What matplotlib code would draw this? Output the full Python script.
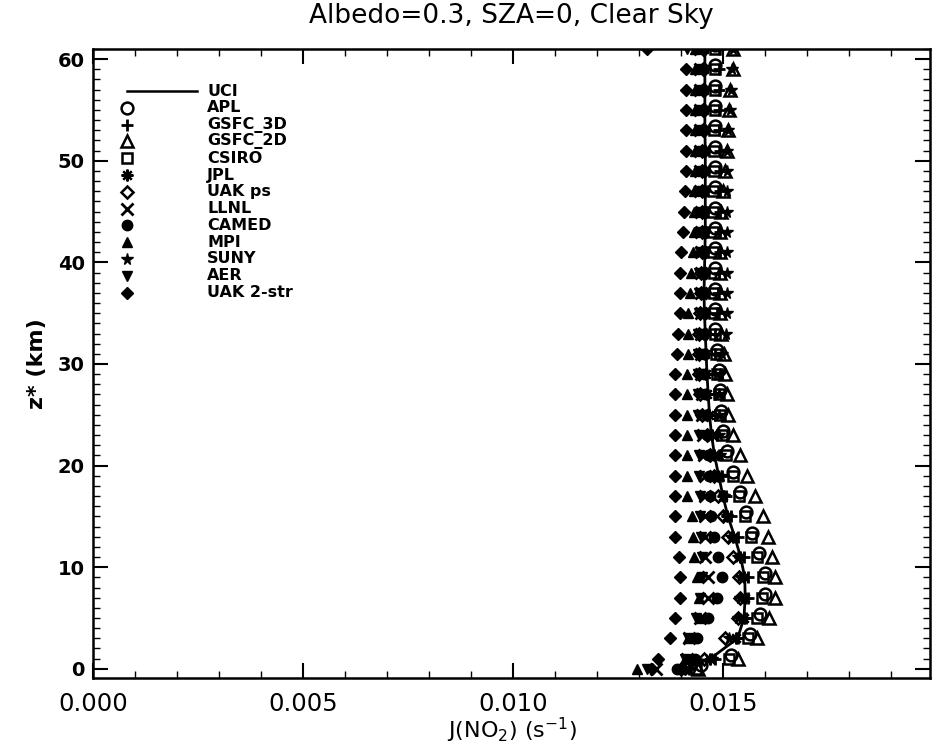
import matplotlib
matplotlib.use("Agg")
import matplotlib.pyplot as plt
from matplotlib.ticker import MultipleLocator, FixedLocator
import numpy as np

# altitude levels (km)
z = [0, 1, 3, 5, 7, 9, 11, 13, 15, 17, 19, 21, 23, 25, 27, 29, 31, 33, 35, 37,
     39, 41, 43, 45, 47, 49, 51, 53, 55, 57, 59, 61]
z_apl = [0.4, 1.4, 3.4, 5.4, 7.4, 9.4, 11.4, 13.4, 15.4, 17.4, 19.4, 21.4, 23.4, 25.4,
         27.4, 29.4, 31.4, 33.4, 35.4, 37.4, 39.4, 41.4, 43.4, 45.4, 47.4, 49.4, 51.4,
         53.4, 55.4, 57.4, 59.4, 61.4]

# J(NO2) values, s^-1
uci = [0.01410, 0.01470, 0.01535, 0.01550, 0.01553, 0.01552, 0.01542, 0.01528, 0.01512,
       0.01500, 0.01490, 0.01480, 0.01473, 0.01468, 0.01465, 0.01462, 0.01460, 0.01458,
       0.01456, 0.01455, 0.01456, 0.01457, 0.01458, 0.01458, 0.01458, 0.01458, 0.01458,
       0.01457, 0.01457, 0.01457, 0.01457, 0.01457]
apl = [0.01448, 0.01520, 0.01565, 0.01588, 0.01600, 0.01600, 0.01585, 0.01570, 0.01555,
       0.01540, 0.01525, 0.01510, 0.01500, 0.01495, 0.01492, 0.01490, 0.01485, 0.01482,
       0.01480, 0.01480, 0.01480, 0.01480, 0.01480, 0.01480, 0.01480, 0.01480, 0.01480,
       0.01480, 0.01480, 0.01480, 0.01480, 0.01480]
gsfc_3d = [0.01420, 0.01480, 0.01535, 0.01555, 0.01560, 0.01560, 0.01550, 0.01535, 0.01520,
           0.01508, 0.01498, 0.01490, 0.01485, 0.01482, 0.01480, 0.01480, 0.01480, 0.01482,
           0.01485, 0.01488, 0.01490, 0.01492, 0.01494, 0.01494, 0.01493, 0.01493, 0.01492,
           0.01490, 0.01490, 0.01490, 0.01490, 0.01490]
gsfc_2d = [0.01440, 0.01535, 0.01580, 0.01610, 0.01624, 0.01624, 0.01617, 0.01607, 0.01595,
           0.01576, 0.01557, 0.01540, 0.01524, 0.01512, 0.01510, 0.01505, 0.01502, 0.01495,
           0.01493, 0.01492, 0.01492, 0.01493, 0.01494, 0.01496, 0.01500, 0.01505, 0.01510,
           0.01513, 0.01515, 0.01518, 0.01524, 0.01524]
csiro = [0.01435, 0.01515, 0.01560, 0.01580, 0.01593, 0.01595, 0.01580, 0.01568, 0.01552,
         0.01538, 0.01523, 0.01508, 0.01498, 0.01492, 0.01490, 0.01486, 0.01483, 0.01480,
         0.01478, 0.01478, 0.01478, 0.01477, 0.01477, 0.01477, 0.01477, 0.01478, 0.01478,
         0.01479, 0.01480, 0.01480, 0.01480, 0.01480]
jpl = [0.01410, 0.01470, 0.01530, 0.01550, 0.01553, 0.01550, 0.01540, 0.01525, 0.01510,
       0.01500, 0.01488, 0.01478, 0.01473, 0.01468, 0.01463, 0.01460, 0.01458, 0.01456,
       0.01455, 0.01455, 0.01455, 0.01455, 0.01455, 0.01455, 0.01455, 0.01455, 0.01455,
       0.01455, 0.01455, 0.01455, 0.01455, 0.01455]
uak_ps = [0.01400, 0.01455, 0.01505, 0.01535, 0.01540, 0.01538, 0.01525, 0.01512, 0.01500,
          0.01488, 0.01478, 0.01470, 0.01462, 0.01450, 0.01445, 0.01443, 0.01442, 0.01443,
          0.01445, 0.01447, 0.01448, 0.01450, 0.01450, 0.01450, 0.01450, 0.01450, 0.01450,
          0.01452, 0.01452, 0.01452, 0.01452, 0.01452]
llnl = [0.01340, 0.01415, 0.01420, 0.01445, 0.01465, 0.01465, 0.01458, 0.01457, 0.01457,
        0.01457, 0.01457, 0.01455, 0.01452, 0.01450, 0.01450, 0.01448, 0.01448, 0.01448,
        0.01448, 0.01448, 0.01448, 0.01448, 0.01448, 0.01448, 0.01446, 0.01446, 0.01446,
        0.01446, 0.01446, 0.01446, 0.01446, 0.01446]
camed = [0.01390, 0.01433, 0.01438, 0.01464, 0.01486, 0.01498, 0.01488, 0.01478, 0.01472,
         0.01470, 0.01468, 0.01465, 0.01463, 0.01460, 0.01458, 0.01456, 0.01455, 0.01455,
         0.01454, 0.01454, 0.01454, 0.01453, 0.01453, 0.01453, 0.01453, 0.01453, 0.01453,
         0.01453, 0.01453, 0.01453, 0.01453, 0.01453]
mpi = [0.01295, 0.01410, 0.01418, 0.01445, 0.01443, 0.01438, 0.01432, 0.01428, 0.01426,
       0.01414, 0.01414, 0.01414, 0.01414, 0.01414, 0.01414, 0.01414, 0.01416, 0.01417,
       0.01418, 0.01421, 0.01425, 0.01429, 0.01430, 0.01430, 0.01432, 0.01433, 0.01433,
       0.01433, 0.01433, 0.01433, 0.01433, 0.01433]
suny = [0.01420, 0.01475, 0.01515, 0.01535, 0.01540, 0.01540, 0.01535, 0.01520, 0.01510,
        0.01502, 0.01495, 0.01492, 0.01490, 0.01490, 0.01490, 0.01492, 0.01498, 0.01508,
        0.01510, 0.01510, 0.01510, 0.01510, 0.01510, 0.01510, 0.01510, 0.01510, 0.01510,
        0.01513, 0.01516, 0.01520, 0.01522, 0.01524]
aer = [0.01320, 0.01410, 0.01418, 0.01435, 0.01445, 0.01450, 0.01450, 0.01448, 0.01446,
       0.01445, 0.01444, 0.01443, 0.01442, 0.01440, 0.01440, 0.01440, 0.01440, 0.01440,
       0.01442, 0.01443, 0.01444, 0.01445, 0.01445, 0.01445, 0.01445, 0.01445, 0.01445,
       0.01445, 0.01445, 0.01445, 0.01445, 0.01415]
uak_2str = [0.01330, 0.01345, 0.01374, 0.01386, 0.01398, 0.01398, 0.01396, 0.01386, 0.01386,
            0.01386, 0.01386, 0.01386, 0.01386, 0.01386, 0.01386, 0.01386, 0.01390, 0.01392,
            0.01398, 0.01398, 0.01398, 0.01400, 0.01405, 0.01408, 0.01410, 0.01412, 0.01412,
            0.01412, 0.01412, 0.01412, 0.01412, 0.01319]

model_names = ["UCI", "APL", "GSFC_3D", "GSFC_2D", "CSIRO", "JPL", "UAK ps", "LLNL",
               "CAMED", "MPI", "SUNY", "AER", "UAK 2-str"]

# style per series: (marker, size, filled, edge width)
styles = {
    "APL": ("o", 8.5, False, 1.8),
    "GSFC_3D": ("+", 9, True, 2.0),
    "GSFC_2D": ("^", 8.5, False, 1.8),
    "CSIRO": ("s", 7.5, False, 1.8),
    "JPL": ((8, 2, 0), 8.5, True, 1.6),
    "UAK ps": ("D", 6.5, False, 1.8),
    "LLNL": ("x", 8, True, 2.0),
    "CAMED": ("o", 7.5, True, 1.0),
    "MPI": ("^", 7.5, True, 1.0),
    "SUNY": ("*", 8.5, True, 1.0),
    "AER": ("v", 7.5, True, 1.0),
    "UAK 2-str": ("D", 6, True, 1.0),
}

series = {
    "APL": (apl, z_apl), "GSFC_3D": (gsfc_3d, z), "GSFC_2D": (gsfc_2d, z),
    "CSIRO": (csiro, z), "JPL": (jpl, z), "UAK ps": (uak_ps, z), "LLNL": (llnl, z),
    "CAMED": (camed, z), "MPI": (mpi, z), "SUNY": (suny, z), "AER": (aer, z),
    "UAK 2-str": (uak_2str, z),
}

fig = plt.figure(figsize=(9.32, 7.46), dpi=100)
ax = fig.add_axes([0.0998, 0.0912, 0.898, 0.8431])

ax.plot(uci, z, color="black", lw=2.0, zorder=3)
for name in model_names[1:]:
    xv, zv = series[name]
    m, s, filled, mew = styles[name]
    ax.plot(xv, zv, linestyle="none", marker=m, markersize=s,
            markerfacecolor="black" if filled else "none",
            markeredgecolor="black", markeredgewidth=mew, zorder=4)

ax.set_xlim(0, 0.01993)
ax.set_ylim(-0.9, 61)

ax.xaxis.set_major_locator(FixedLocator([0.0, 0.005, 0.010, 0.015]))
ax.set_xticklabels(["0.000", "0.005", "0.010", "0.015"])
ax.xaxis.set_minor_locator(MultipleLocator(0.001))
ax.yaxis.set_major_locator(MultipleLocator(10))
ax.yaxis.set_minor_locator(MultipleLocator(1))

ax.tick_params(which="both", direction="in", top=True, right=True, color="black")
ax.tick_params(which="major", length=11, width=1.5)
ax.tick_params(which="minor", length=5, width=1.0)
ax.tick_params(axis="x", which="major", labelsize=17.5, pad=10)
ax.tick_params(axis="y", which="major", labelsize=14, pad=6)
for lbl in ax.get_yticklabels():
    lbl.set_fontweight("bold")
for sp in ax.spines.values():
    sp.set_linewidth(1.8)

ax.set_title("Albedo=0.3, SZA=0, Clear Sky", fontsize=19, pad=19)
ax.set_xlabel(r"J(NO$_2$) (s$^{-1}$)", fontsize=16, labelpad=0)
ax.set_ylabel("z* (km)", fontsize=16, fontweight="bold", labelpad=8)

# manual legend (IDL style)
ax_w, ax_h = 837.0, 629.0
def fx(px):
    return (px - 93) / ax_w
def fy(py):
    return 1 - (py - 49) / ax_h

row_y = [91 + 16.8 * i for i in range(len(model_names))]
ax.plot([fx(127), fx(197)], [fy(row_y[0]), fy(row_y[0])], transform=ax.transAxes,
        color="black", lw=1.8, clip_on=False)
for i, name in enumerate(model_names):
    ax.text(fx(207), fy(row_y[i]), name, transform=ax.transAxes, fontsize=11.5,
            fontweight="bold", va="center", ha="left")
    if i == 0:
        continue
    m, s, filled, mew = styles[name]
    ax.plot([fx(127)], [fy(row_y[i])], transform=ax.transAxes, linestyle="none",
            marker=m, markersize=s, markerfacecolor="black" if filled else "none",
            markeredgecolor="black", markeredgewidth=mew, clip_on=False)

fig.savefig("out.png", dpi=100)
